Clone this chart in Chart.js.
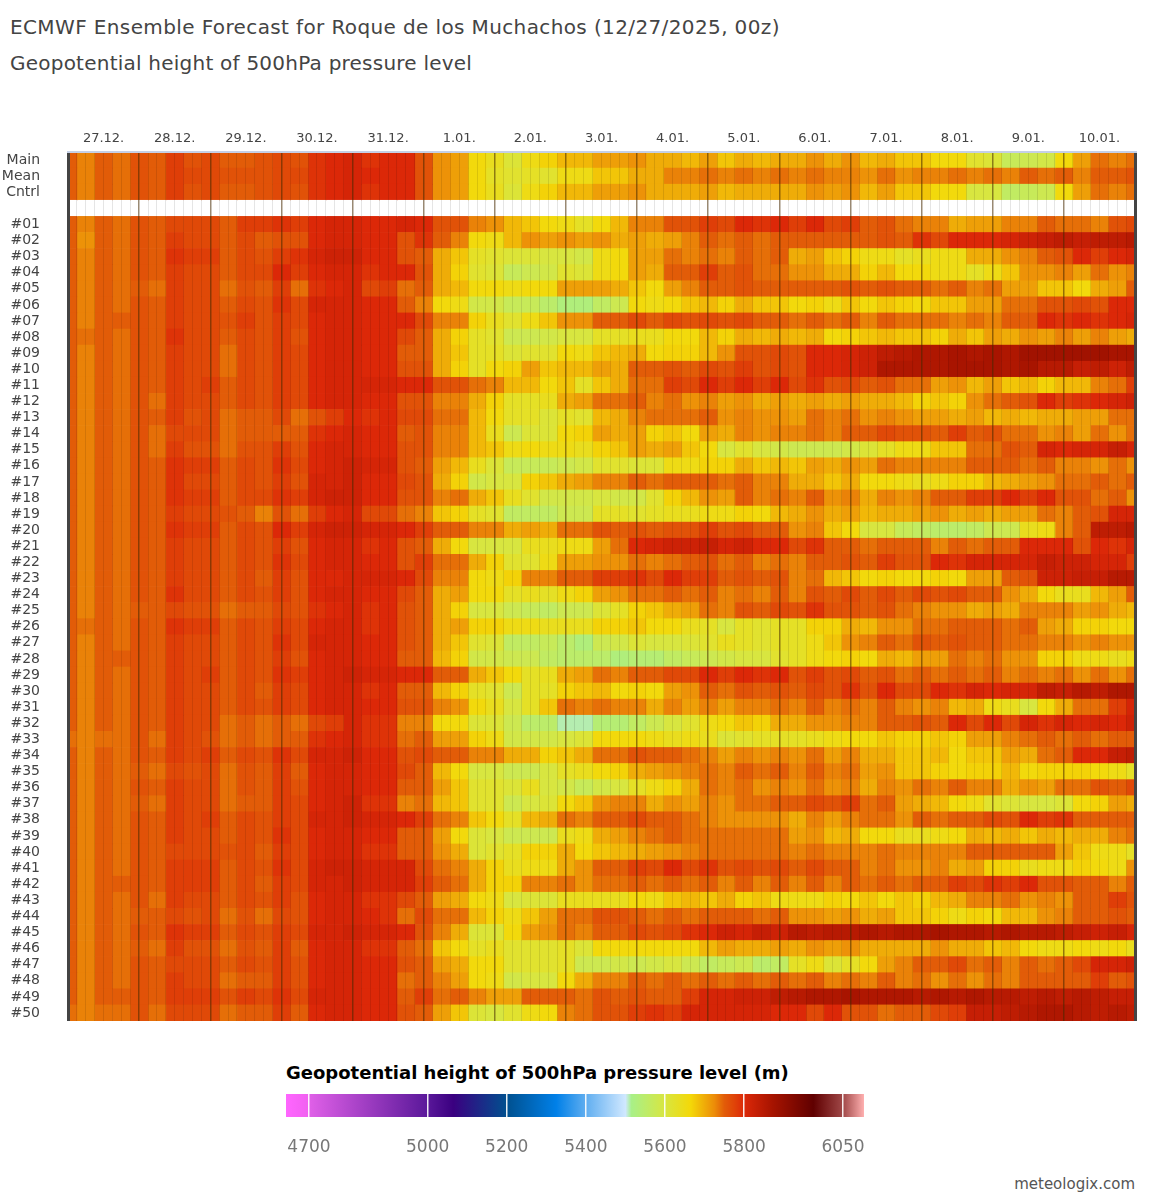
<!DOCTYPE html>
<html>
<head>
<meta charset="utf-8">
<script src="https://cdn.jsdelivr.net/npm/chart.js@4"></script>
<style>
body { margin: 0; background: #fff; width: 1154px; height: 1200px; position: relative; overflow: hidden; font-family: "DejaVu Sans", sans-serif; }
.t { position: absolute; white-space: nowrap; }
canvas { position: absolute; left: 0; }
</style>
</head>
<body>
<div class="t" style="left:10px;top:15px;font-size:20px;color:#444;letter-spacing:.38px;">ECMWF Ensemble Forecast for Roque de los Muchachos (12/27/2025, 00z)</div>
<div class="t" style="left:10px;top:51px;font-size:20px;color:#444;letter-spacing:.23px;">Geopotential height of 500hPa pressure level</div>
<canvas id="grid" style="top:0" width="1154" height="1040"></canvas>
<div class="t" style="left:286px;top:1062px;font-size:18px;font-weight:bold;color:#000;">Geopotential height of 500hPa pressure level (m)</div>
<canvas id="bar" style="top:1085px" width="1154" height="80"></canvas>
<div class="t" style="right:19px;top:1175px;font-size:15px;color:#555;">meteologix.com</div>
<script>
const dayLabels = ['27.12.','28.12.','29.12.','30.12.','31.12.','1.01.','2.01.','3.01.','4.01.','5.01.','6.01.','7.01.','8.01.','9.01.','10.01.'];
const rowLabels = ['Main','Mean','Cntrl',''];
for (let i = 1; i <= 50; i++) rowLabels.push('#' + String(i).padStart(2, '0'));

// height in dam, every 6 hours from 27.12. 00z to 11.01. 00z
const main  = [575,573,575,574,576,575,578,576,577,575,575,576,577,576,579,580,581,579,580,580,576,572,571,566,564,561,565,567,569,569,571,571,572,570,570,569,571,568,570,569,570,570,572,570,572,569,570,568,568,566,566,562,561,557,558,559,566,571,574,573,574];
const mean  = [575,573,575,574,576,575,578,577,577,576,576,576,577,577,579,580,581,580,580,580,576,572,571,566,563,562,563,562,565,565,568,568,570,570,573,573,574,573,574,573,574,573,574,573,573,572,574,572,573,573,574,573,574,573,575,574,575,573,575,575,576];
const cntrl = [575,573,575,574,576,575,578,576,577,575,575,576,577,576,579,580,581,579,580,580,576,572,571,566,564,561,565,567,569,569,571,571,572,570,570,570,571,569,570,570,570,570,572,571,572,569,571,568,568,566,566,560,560,556,557,558,566,571,574,573,574];
const m01 = [575,573,575,574,576,575,577,577,577,575,578,578,579,578,580,581,581,580,580,581,580,576,576,573,572,569,568,566,565,563,566,569,573,573,576,576,578,577,580,579,580,578,580,577,578,575,576,574,573,573,570,571,571,573,573,575,574,574,573,576,577];
const m02 = [575,572,575,574,576,575,578,577,577,575,577,575,576,576,580,581,581,580,580,576,579,575,573,566,565,569,572,571,572,571,572,570,571,570,571,573,575,574,575,574,575,575,575,575,575,575,576,575,579,577,580,580,580,581,582,583,584,583,584,584,585];
const m03 = [575,573,575,574,576,575,579,578,578,575,577,576,578,579,581,582,582,580,580,576,575,570,568,563,562,561,561,560,560,559,565,566,571,571,574,573,574,573,575,574,575,570,571,568,567,565,565,563,564,565,565,570,570,572,573,575,576,580,578,580,581];
const m04 = [575,573,575,574,576,575,578,577,577,575,577,577,580,578,580,581,581,579,580,580,576,570,567,562,561,557,558,559,562,561,565,566,571,570,575,575,578,575,576,574,574,572,572,570,570,567,569,566,566,565,565,563,565,568,572,572,573,571,574,572,573];
const m05 = [575,573,575,574,575,574,578,577,577,574,576,575,578,574,579,580,581,577,578,574,575,570,569,566,566,565,566,566,571,571,571,570,568,566,571,573,575,575,576,575,575,575,575,575,576,575,576,575,575,574,575,573,574,571,571,568,568,566,570,571,575];
const m06 = [575,573,575,574,576,575,578,577,577,575,577,576,579,577,581,581,581,580,580,575,573,566,565,559,559,557,557,555,553,553,556,558,566,565,566,568,569,567,570,568,568,566,567,565,568,566,568,567,566,568,568,571,571,574,574,576,576,577,576,580,580];
const m07 = [575,573,575,575,576,575,578,577,577,576,578,576,578,577,580,581,581,580,580,580,577,573,573,567,564,562,565,568,572,572,575,575,577,575,577,576,577,576,577,575,575,574,575,574,575,573,575,574,574,574,573,574,573,575,575,580,579,580,579,580,581];
const m08 = [575,574,575,574,576,575,579,577,577,575,577,576,578,576,580,581,581,580,580,577,575,570,567,563,562,558,558,559,560,560,563,563,564,564,566,566,569,567,570,569,570,569,570,566,567,568,569,568,568,567,570,568,571,570,572,571,573,571,573,571,570];
const m09 = [575,573,575,574,576,575,578,577,577,574,577,576,578,577,580,581,581,580,580,575,575,570,568,563,563,561,562,562,566,565,568,569,570,566,567,567,569,572,576,576,577,576,580,580,581,582,584,585,586,586,587,586,587,586,588,588,588,588,588,587,587];
const m10 = [575,573,575,574,576,575,578,577,577,574,577,576,578,577,580,581,581,580,580,576,576,570,567,563,566,567,571,568,569,569,571,570,575,575,576,575,577,576,578,576,577,576,580,580,581,582,586,586,586,586,587,587,587,586,587,585,585,583,584,582,584];
const m11 = [575,573,575,574,576,575,578,577,578,575,577,576,578,577,580,581,581,581,581,580,580,576,576,574,573,569,569,566,568,563,568,570,574,574,578,577,580,578,580,578,580,577,579,576,577,575,576,574,574,571,572,569,571,568,569,567,569,569,573,574,578];
const m12 = [575,573,575,574,576,574,578,577,577,575,577,576,578,577,580,581,581,580,580,576,576,573,573,570,567,563,563,564,570,571,574,574,575,573,574,572,573,571,572,570,571,570,571,570,571,570,570,569,567,568,567,572,574,575,576,580,578,579,580,581,582];
const m13 = [575,573,575,574,576,575,578,576,577,574,575,575,577,574,576,578,580,579,580,577,577,574,574,569,566,563,563,561,563,562,569,570,573,574,574,574,575,572,573,572,572,571,574,573,574,572,573,572,571,571,570,571,569,570,569,570,570,571,571,574,574];
const m14 = [575,573,575,574,576,574,577,577,577,574,575,575,575,575,579,580,581,580,580,575,576,573,573,569,564,558,561,561,566,567,571,570,571,567,568,566,571,570,573,572,573,573,574,573,575,575,577,576,576,575,578,575,576,574,574,572,573,571,574,572,574];
const m15 = [575,573,575,574,576,574,578,576,576,574,576,576,578,576,580,581,581,580,580,576,576,573,573,569,568,565,566,565,565,564,567,568,571,570,571,568,566,560,562,560,559,558,558,558,559,561,563,565,565,568,568,574,574,576,575,581,580,581,581,583,581];
const m16 = [575,573,575,574,576,575,579,578,578,575,577,576,579,577,580,581,582,581,581,576,575,571,569,564,561,557,557,557,558,559,562,562,561,561,565,565,567,567,570,568,569,568,571,570,572,571,574,573,573,573,573,575,575,575,574,575,573,573,572,574,572];
const m17 = [575,573,575,574,576,575,579,577,577,575,577,576,578,576,581,581,582,580,580,577,576,570,567,559,560,560,567,568,570,571,573,573,575,574,575,575,575,574,575,573,573,570,570,568,570,566,566,565,564,565,567,567,569,570,571,572,574,574,575,574,575];
const m18 = [575,573,575,574,576,575,579,578,578,575,577,577,579,578,581,582,582,580,580,576,576,573,574,570,568,564,562,559,559,559,560,559,559,562,567,569,572,571,575,573,574,573,575,572,573,570,573,572,573,575,575,578,578,580,578,580,576,576,574,575,572];
const m19 = [575,573,575,574,576,575,578,577,577,576,575,573,576,574,578,580,581,577,577,574,573,568,567,563,562,556,556,556,558,558,563,563,562,563,564,564,565,565,567,566,569,570,572,570,571,569,570,570,571,572,570,571,570,571,571,574,573,575,576,581,581];
const m20 = [575,573,575,574,576,575,579,578,578,575,577,576,580,578,581,582,582,581,581,580,578,575,575,573,573,570,571,570,574,574,576,575,576,575,576,576,578,576,577,575,575,572,573,568,566,560,560,557,556,555,555,556,558,558,564,565,573,575,584,584,585];
const m21 = [575,573,575,574,576,575,578,577,577,575,577,576,578,576,580,581,581,579,580,576,575,570,566,560,560,560,564,564,565,565,571,574,580,581,582,582,583,581,582,580,580,577,579,575,575,574,575,575,575,573,575,574,575,575,580,580,580,576,580,579,581];
const m22 = [575,573,575,574,576,575,578,577,577,575,577,576,579,577,580,581,581,580,580,576,578,574,574,570,567,562,562,565,571,571,572,572,574,573,574,575,576,574,575,573,574,573,575,575,576,575,578,576,576,580,579,581,581,581,581,583,582,582,581,581,578];
const m23 = [575,573,575,574,576,575,578,577,577,575,577,575,578,576,580,580,581,581,581,580,577,573,573,566,565,567,573,573,575,575,578,578,579,577,580,578,578,575,576,575,576,573,574,569,568,566,567,566,566,567,566,571,571,575,576,582,582,583,583,585,585];
const m24 = [575,573,575,574,576,575,579,577,577,575,577,576,578,576,580,581,581,580,580,577,575,570,571,566,566,563,564,563,565,567,571,572,574,574,575,574,575,573,574,573,575,573,576,575,577,575,577,575,577,576,577,575,575,572,570,566,564,564,569,571,575];
const m25 = [575,573,575,574,575,575,577,576,576,574,575,575,577,576,579,580,581,579,580,576,575,570,567,560,560,558,557,556,558,558,561,563,567,568,570,571,574,573,576,575,577,576,579,576,576,575,576,574,573,572,572,570,571,570,573,573,573,571,572,570,569];
const m26 = [575,574,575,574,576,575,579,578,578,575,577,576,578,577,580,581,581,579,580,576,575,570,571,567,567,565,565,564,564,564,567,567,568,566,566,564,563,560,563,562,563,563,567,567,570,569,572,572,574,574,575,575,575,574,575,571,570,567,567,566,566];
const m27 = [575,573,575,574,576,575,578,577,577,575,577,576,579,577,581,581,581,580,580,576,575,570,568,562,561,556,556,557,555,553,558,559,561,560,560,561,562,564,563,562,563,563,565,568,572,573,575,574,576,575,576,575,575,574,574,573,573,572,573,572,572];
const m28 = [575,573,575,575,576,575,578,577,577,575,577,576,578,576,580,581,581,580,580,575,575,569,567,559,559,558,558,556,555,555,555,553,554,554,556,557,558,559,560,560,562,563,565,566,567,566,570,569,571,571,574,573,574,572,572,567,567,565,565,564,565];
const m29 = [575,573,575,574,576,575,578,577,578,575,577,576,579,578,580,581,582,581,581,580,580,575,575,570,568,566,563,564,570,571,574,573,575,575,577,577,580,578,580,579,580,576,578,576,577,575,576,574,575,574,575,574,575,573,574,573,574,572,574,572,574];
const m30 = [575,573,575,574,576,575,578,577,577,575,577,575,578,577,580,581,581,579,580,575,575,569,567,563,562,558,563,563,567,568,569,566,567,566,571,572,575,574,576,575,576,575,577,576,579,576,580,577,577,580,579,581,580,581,581,584,583,585,584,586,586];
const m31 = [575,573,575,574,576,575,578,577,577,575,577,576,578,577,580,581,581,580,580,576,576,573,572,566,564,560,563,568,574,573,574,573,573,570,573,571,573,571,573,573,574,573,575,573,574,573,575,573,572,573,569,570,565,564,560,566,570,574,574,578,581];
const m32 = [575,573,575,574,576,575,578,577,577,574,575,574,575,574,577,578,581,579,579,573,573,566,566,561,561,558,555,555,551,551,554,554,556,558,560,562,565,566,568,567,570,570,572,572,573,573,575,575,576,575,580,577,580,577,581,579,581,580,581,580,582];
const m33 = [574,573,574,574,576,574,578,577,576,574,575,574,575,575,579,580,581,579,579,574,575,571,571,567,565,559,559,559,560,561,566,566,566,565,564,565,564,561,562,563,563,563,564,565,566,566,568,567,567,568,567,571,571,573,574,575,574,575,574,575,575];
const m34 = [575,573,575,574,576,575,578,577,578,575,577,576,579,577,581,581,582,580,580,576,577,575,575,573,573,570,570,567,568,570,574,574,576,575,575,574,573,571,573,572,573,572,574,571,573,570,570,568,568,569,566,568,568,571,570,574,575,580,580,583,584];
const m35 = [575,573,575,574,575,574,577,576,577,574,576,575,578,575,580,581,581,580,580,577,575,569,566,560,560,558,558,560,563,564,566,567,570,571,572,573,574,573,575,574,575,573,575,573,574,571,572,568,568,567,566,567,567,569,566,567,567,567,566,565,563];
const m36 = [575,573,575,574,576,575,578,577,577,574,576,575,578,576,580,581,581,580,580,575,575,571,568,562,562,561,564,560,559,557,559,560,563,565,567,570,574,573,574,572,573,572,574,572,573,570,573,572,574,573,575,573,573,570,572,571,574,574,576,575,577];
const m37 = [575,573,575,574,575,574,578,577,577,574,575,575,578,577,580,581,582,579,579,573,574,569,568,562,562,558,560,561,566,568,572,573,573,570,572,571,573,572,574,574,575,575,577,576,578,574,575,571,570,569,566,565,562,561,560,560,561,566,567,571,570];
const m38 = [575,573,575,574,576,575,578,577,578,575,577,576,578,577,581,581,582,581,581,580,578,574,573,568,566,563,569,570,574,573,575,575,577,575,575,574,573,572,572,572,572,570,573,571,573,574,574,572,575,574,575,575,577,576,580,578,579,575,575,575,575];
const m39 = [575,573,575,574,576,575,578,577,577,575,577,576,579,577,580,581,581,580,580,575,575,571,566,561,560,558,558,558,564,565,570,571,573,574,575,574,574,574,574,574,574,571,572,569,570,566,566,564,564,565,566,570,569,570,568,570,569,570,570,573,574];
const m40 = [575,573,575,574,576,575,577,577,577,576,577,575,578,577,580,581,581,579,579,575,575,572,570,561,562,563,567,567,570,566,568,569,570,571,572,573,574,574,574,574,574,573,574,573,573,573,574,573,573,573,573,575,575,575,575,575,571,568,565,565,563];
const m41 = [575,573,575,574,576,575,578,578,578,575,577,576,579,577,581,582,582,581,581,581,577,574,573,570,567,564,565,565,570,572,575,575,578,577,580,577,579,576,577,576,577,575,577,575,575,573,574,572,572,573,570,571,567,567,564,565,565,567,566,565,572];
const m42 = [575,573,575,575,576,575,578,578,578,575,577,575,578,577,581,581,582,581,581,581,578,575,574,570,567,567,573,573,574,572,574,574,575,574,575,574,575,573,575,573,575,573,575,573,575,574,575,574,575,575,578,577,579,578,580,576,576,575,575,573,575];
const m43 = [575,573,575,574,576,574,578,577,577,575,577,576,578,576,580,581,581,579,579,577,575,571,570,566,565,560,561,561,564,564,564,564,566,565,568,569,568,570,567,568,565,565,565,567,566,568,566,568,567,569,570,573,573,574,572,573,572,575,575,578,576];
const m44 = [575,573,575,574,575,575,577,576,577,574,576,574,577,576,580,581,581,580,579,574,577,574,574,569,567,565,568,571,574,574,576,576,575,574,575,574,575,575,575,574,575,572,572,571,572,570,571,568,568,567,565,567,566,569,569,572,573,575,575,576,575];
const m45 = [575,573,575,574,576,575,579,578,578,575,577,576,578,577,581,581,582,581,581,580,576,573,570,561,561,566,571,572,574,573,575,575,577,576,577,579,580,582,581,583,582,585,584,585,585,586,585,586,586,587,586,586,585,586,585,585,584,583,582,583,581];
const m46 = [575,573,575,574,575,574,578,576,576,574,576,575,578,575,580,581,581,579,579,575,574,568,566,563,564,562,562,562,563,561,566,566,566,566,566,566,569,571,570,570,571,570,572,571,572,570,570,570,570,572,570,570,568,569,566,565,565,566,565,566,564];
const m47 = [575,573,575,574,576,575,577,577,577,575,577,576,578,576,580,581,581,580,580,576,575,571,570,566,566,562,562,562,563,558,558,559,558,559,560,558,556,557,558,555,556,563,565,561,563,566,571,573,575,575,577,574,575,573,575,574,575,577,581,581,582];
const m48 = [575,573,575,574,576,575,578,577,577,574,575,575,578,576,580,581,581,580,580,574,575,573,571,566,565,559,560,560,566,570,573,573,575,574,575,574,575,574,575,574,575,574,575,573,574,573,575,573,574,572,574,572,574,573,575,575,575,575,578,575,576];
const m49 = [575,573,575,575,576,575,578,578,578,576,578,577,579,577,581,581,581,580,580,575,578,574,575,573,571,571,575,575,575,574,576,575,576,575,575,578,581,581,582,582,584,585,586,586,587,586,586,586,585,586,585,586,585,585,584,585,584,585,584,583,583];
const m50 = [574,573,574,574,576,574,577,577,577,574,575,575,578,575,580,581,581,580,580,576,575,571,568,561,560,562,565,566,573,574,576,576,578,579,578,581,581,581,581,581,580,580,577,580,576,576,574,575,575,577,578,583,583,584,585,586,586,585,584,585,584];

// colour scale, heights in m
const scaleStops = [4642,4700,4700.1,5000,5065,5200,5325,5400,5500,5515,5600,5665,5725,5750,5775,5800,5870,5975,6050,6103];
const scaleColors = ['#ff66ff','#f060f0','#e060e8','#5a189a','#3a0080','#00508f','#0080e8','#60aef0','#d0e8ff','#a8f088','#d8e640','#f4d808','#ec8c08','#e25c08','#e04408','#dc2808','#a81400','#600000','#a04848','#ffb0b0'];
const scaleTicks = [4700,5000,5200,5400,5600,5800,6050];

const rows = [main,mean,cntrl,null,m01,m02,m03,m04,m05,m06,m07,m08,m09,m10,m11,m12,m13,m14,m15,m16,m17,m18,m19,m20,m21,m22,m23,m24,m25,m26,m27,m28,m29,m30,m31,m32,m33,m34,m35,m36,m37,m38,m39,m40,m41,m42,m43,m44,m45,m46,m47,m48,m49,m50];

function hex(c) {
  return [1, 3, 5].map(i => parseInt(c.slice(i, i + 2), 16));
}

function colorFor(v) {
  if (v <= scaleStops[0]) return scaleColors[0];
  for (let i = 1; i < scaleStops.length; i++) {
    if (v <= scaleStops[i]) {
      const t = (v - scaleStops[i - 1]) / (scaleStops[i] - scaleStops[i - 1]);
      const a = hex(scaleColors[i - 1]), b = hex(scaleColors[i]);
      return 'rgb(' + a.map((x, k) => Math.round(x + (b[k] - x) * t)).join(',') + ')';
    }
  }
  return scaleColors[scaleColors.length - 1];
}

// one dataset per forecast step, each a floating bar across every row
const datasets = [];
for (let j = 0; j < main.length; j++) {
  datasets.push({
    data: rows.map(() => [j * 6 - 3, j * 6 + 3]),
    backgroundColor: rows.map(r => r ? colorFor(r[j] * 10) : '#ffffff'),
    borderWidth: 0,
    barPercentage: 1,
    categoryPercentage: 1,
    grouped: false
  });
}

new Chart(document.getElementById('grid'), {
  type: 'bar',
  data: { labels: rowLabels, datasets: datasets },
  options: {
    indexAxis: 'y',
    responsive: false,
    animation: false,
    layout: { padding: { right: 19, bottom: 19 } },
    plugins: { legend: { display: false }, tooltip: { enabled: false } },
    scales: {
      x: {
        type: 'linear',
        position: 'top',
        min: 0,
        max: 360,
        afterFit: s => { s.height = 152; },
        afterBuildTicks: s => {
          const t = [];
          for (let h = 0; h <= 360; h += 3) t.push({ value: h });
          s.ticks = t;
        },
        border: { display: true, color: '#c5d0e6', width: 2, z: 1 },
        grid: {
          z: 1,
          drawTicks: false,
          color: c => {
            const h = c.tick.value;
            if (h === 0 || h === 360) return '#444444';
            return h % 24 === 0 ? 'rgba(70,40,0,0.55)' : 'rgba(0,0,0,0.1)';
          },
          lineWidth: c => {
            const h = c.tick.value;
            if (h === 0 || h === 360) return 3;
            return h % 24 === 0 ? 1.5 : 1;
          }
        },
        ticks: {
          autoSkip: false,
          maxRotation: 0,
          padding: 6,
          color: '#444',
          font: { family: 'DejaVu Sans', size: 13 },
          callback: v => v % 24 === 12 ? dayLabels[(v - 12) / 24] : ''
        }
      },
      y: {
        type: 'category',
        offset: true,
        // tick padding would otherwise be reserved under the plot as well
        afterFit: s => { s.width = 68; s.paddingTop = 0; s.paddingBottom = 0; },
        border: { display: false },
        grid: { display: false },
        ticks: {
          autoSkip: false,
          padding: 20,
          color: '#444',
          font: { family: 'DejaVu Sans', size: 14 }
        }
      }
    }
  }
});

// colour bar under the grid
new Chart(document.getElementById('bar'), {
  type: 'bar',
  data: {
    labels: ['scale'],
    datasets: [{
      data: [[scaleStops[0], scaleStops[scaleStops.length - 1]]],
      barPercentage: 1,
      categoryPercentage: 1,
      borderWidth: 0,
      backgroundColor: c => {
        const chart = c.chart;
        if (!chart.chartArea) return '#fff';
        const x = chart.scales.x;
        const g = chart.ctx.createLinearGradient(x.left, 0, x.right, 0);
        scaleStops.forEach((s, i) => {
          const p = (x.getPixelForValue(s) - x.left) / (x.right - x.left);
          g.addColorStop(Math.min(1, Math.max(0, p)), scaleColors[i]);
        });
        return g;
      }
    }]
  },
  options: {
    indexAxis: 'y',
    responsive: false,
    animation: false,
    layout: { padding: { left: 286, right: 290, top: 9, bottom: 0 } },
    plugins: { legend: { display: false }, tooltip: { enabled: false } },
    scales: {
      x: {
        type: 'linear',
        min: scaleStops[0],
        max: scaleStops[scaleStops.length - 1],
        afterFit: s => { s.height = 48; },
        afterBuildTicks: s => { s.ticks = scaleTicks.map(v => ({ value: v })); },
        border: { display: false },
        grid: { z: 1, color: 'rgba(255,255,255,0.9)', lineWidth: 1.5, drawTicks: false },
        ticks: {
          autoSkip: false,
          maxRotation: 0,
          padding: 20,
          color: '#777',
          font: { family: 'DejaVu Sans', size: 17 },
          callback: v => String(v)
        }
      },
      y: { display: false }
    }
  }
});
</script>
</body>
</html>
